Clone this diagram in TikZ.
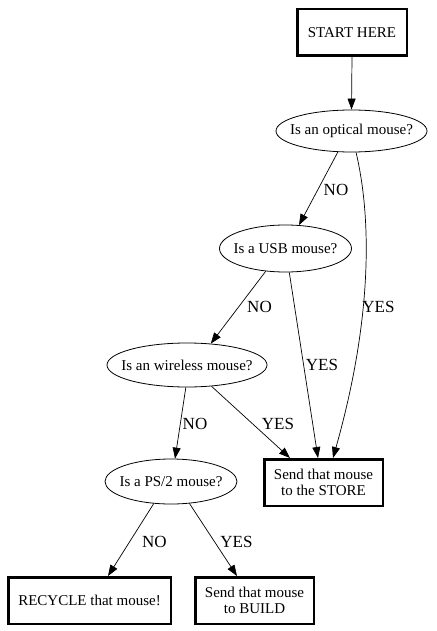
\documentclass[tikz,border=0pt]{standalone}
\usepackage{fontspec}
\setmainfont{Liberation Serif}
\usetikzlibrary{shapes.geometric,arrows.meta}
\begin{document}
\begin{tikzpicture}[x=1pt,y=-1pt,
  txt/.style={font=\fontsize{15}{16}\selectfont},
  box/.style={draw, line width=2.5pt, rectangle, inner sep=0pt, align=center, minimum height=46.5pt, txt},
  q/.style={draw, line width=0.8pt, ellipse, inner sep=0pt},
  edge/.style={line width=0.7pt, -{Triangle[length=11pt,width=8pt]}},
  lab/.style={font=\fontsize{17}{18}\selectfont, inner sep=0pt}]
\useasboundingbox (0,0) rectangle (436,631);
% nodes
\node[box, minimum width=109.5pt] (start) at (352,32.5) {START HERE};
\node[q, minimum width=151pt, minimum height=42pt, label={[txt]center:Is an optical mouse?}] (opt) at (351.5,131) {};
\node[q, minimum width=132pt, minimum height=47pt, label={[txt]center:Is a USB mouse?}] (usb) at (285.5,248.5) {};
\node[q, minimum width=160pt, minimum height=44pt, label={[txt]center:Is an wireless mouse?}] (wls) at (187,365) {};
\node[q, minimum width=132pt, minimum height=45pt, label={[txt]center:Is a PS/2 mouse?}] (ps2) at (171,481.5) {};
\node[box, minimum width=118.5pt] (store) at (323.5,482.5) {Send that mouse\\to the STORE};
\node[box, minimum width=162.5pt] (recycle) at (89.5,600.5) {RECYCLE that mouse!};
\node[box, minimum width=118.5pt] (build) at (254.5,600.5) {Send that mouse\\to BUILD};
% edges
\draw[edge] (start.south) -- (opt.north);
\draw[edge] (opt.237) -- (usb.60);
\draw[edge] (opt.282) .. controls (372,220) and (372,320) .. ([xshift=9.5pt]store.north);
\draw[edge] (usb.229) -- (wls.42.5);
\draw[edge] (usb.279) -- ([xshift=-5.5pt]store.north);
\draw[edge] (wls.267) -- (ps2.80);
\draw[edge] (wls.319) -- ([xshift=-33.5pt]store.north);
\draw[edge] (ps2.232) -- ([xshift=18.5pt]recycle.north);
\draw[edge] (ps2.310) -- ([xshift=-17.5pt]build.north);
% labels
\node[lab] (l1) at (336,189.5) {NO};
\node[lab] (l2) at (378.5,307) {YES};
\node[lab] (l3) at (259.5,307) {NO};
\node[lab] (l4) at (322,365) {YES};
\node[lab] (l5) at (195,424) {NO};
\node[lab] (l6) at (278,424) {YES};
\node[lab] (l7) at (154.5,542) {NO};
\node[lab] (l8) at (236.5,542) {YES};
\end{tikzpicture}
\end{document}
